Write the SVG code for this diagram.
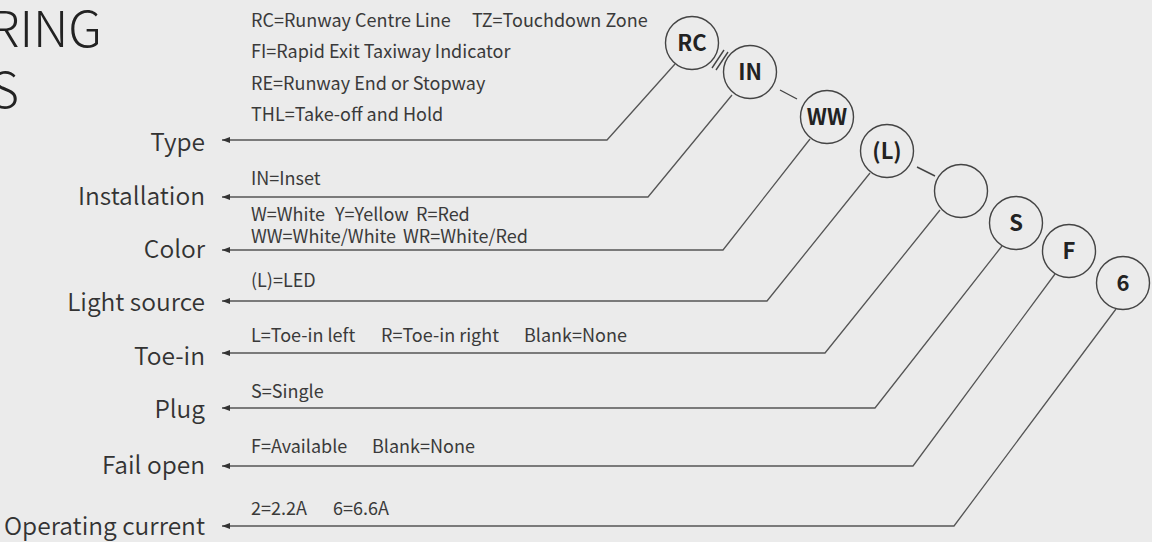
<svg xmlns="http://www.w3.org/2000/svg" width="1152" height="542" viewBox="0 0 1152 542">
<defs>
<marker id="arr" markerUnits="userSpaceOnUse" markerWidth="10" markerHeight="8" refX="8" refY="3" orient="auto">
<path d="M0,0 L8,3 L0,6 z" fill="#333"/>
</marker>
<style>
.bg{fill:#ebebeb}
.title{font-family:"Noto Sans CJK SC","Noto Sans",sans-serif;font-weight:300;font-size:50px;fill:#222}
.lbl{font-family:"Noto Sans CJK SC","Noto Sans",sans-serif;font-weight:350;font-size:24.5px;fill:#333;text-anchor:end}
.desc{font-family:"Noto Sans CJK SC","Noto Sans",sans-serif;font-weight:400;font-size:18px;fill:#3a3a3a}
.code{font-family:"Noto Sans CJK SC","Noto Sans",sans-serif;font-weight:700;font-size:22px;fill:#222;text-anchor:middle}
.circ{fill:#ebebeb;stroke:#444;stroke-width:1.4}
.con{fill:none;stroke:#555;stroke-width:1.3;marker-end:url(#arr)}
.sep{stroke:#444;stroke-width:1.4}
</style>
</defs>
<rect class="bg" x="0" y="0" width="1152" height="542"/>
<g id="title">
<text class="title" x="102" y="47" text-anchor="end">RING</text>
<text class="title" x="19" y="108" text-anchor="end">S</text>
</g>
<g id="connectors">
<path class="con" d="M675,64 L607,140 L222,140"/>
<path class="con" d="M732,95 L648,197 L222,197"/>
<path class="con" d="M810,139 L723,250 L222,250"/>
<path class="con" d="M870,173 L767,301 L222,301"/>
<path class="con" d="M940,210 L825,353 L222,353"/>
<path class="con" d="M1002,246 L875,408 L222,408"/>
<path class="con" d="M1055,274 L913,466 L222,466"/>
<path class="con" d="M1116,309 L954,526 L222,526"/>
<line class="sep" x1="712" y1="68" x2="724" y2="50"/>
<line class="sep" x1="716" y1="70" x2="728" y2="52"/>
<line class="sep" x1="780" y1="90" x2="797" y2="99"/>
<line class="sep" x1="917" y1="167" x2="935" y2="176"/>
</g>
<g id="node-type">
<text class="lbl" x="205" y="151">Type</text>
<text class="desc" x="251" y="27">RC=Runway Centre Line<tspan x="472">TZ=Touchdown Zone</tspan></text>
<text class="desc" x="251" y="58">FI=Rapid Exit Taxiway Indicator</text>
<text class="desc" x="251" y="90">RE=Runway End or Stopway</text>
<text class="desc" x="251" y="121">THL=Take-off and Hold</text>
<circle class="circ" cx="692" cy="43" r="26.5"/>
<text class="code" x="692" y="51">RC</text>
</g>
<g id="node-installation">
<text class="lbl" x="205" y="205">Installation</text>
<text class="desc" x="251" y="185">IN=Inset</text>
<circle class="circ" cx="750" cy="72" r="26.5"/>
<text class="code" x="750" y="80">IN</text>
</g>
<g id="node-color">
<text class="lbl" x="205" y="258">Color</text>
<text class="desc" x="251" y="221">W=White<tspan x="335">Y=Yellow</tspan><tspan x="416">R=Red</tspan></text>
<text class="desc" x="251" y="243">WW=White/White<tspan x="403">WR=White/Red</tspan></text>
<circle class="circ" cx="827" cy="117" r="26.5"/>
<text class="code" x="827" y="125">WW</text>
</g>
<g id="node-light-source">
<text class="lbl" x="205" y="311">Light source</text>
<text class="desc" x="251" y="287">(L)=LED</text>
<circle class="circ" cx="887" cy="151" r="26.5"/>
<text class="code" x="887" y="159">(L)</text>
</g>
<g id="node-toe-in">
<text class="lbl" x="205" y="365">Toe-in</text>
<text class="desc" x="251" y="342">L=Toe-in left<tspan x="381">R=Toe-in right</tspan><tspan x="524">Blank=None</tspan></text>
<circle class="circ" cx="961" cy="191" r="26.5"/>
</g>
<g id="node-plug">
<text class="lbl" x="205" y="418">Plug</text>
<text class="desc" x="251" y="398">S=Single</text>
<circle class="circ" cx="1016" cy="223" r="26.5"/>
<text class="code" x="1016" y="231">S</text>
</g>
<g id="node-fail-open">
<text class="lbl" x="205" y="474">Fail open</text>
<text class="desc" x="251" y="453">F=Available<tspan x="372">Blank=None</tspan></text>
<circle class="circ" cx="1069" cy="251" r="26.5"/>
<text class="code" x="1069" y="259">F</text>
</g>
<g id="node-operating-current">
<text class="lbl" x="205" y="535">Operating current</text>
<text class="desc" x="251" y="515">2=2.2A<tspan x="333">6=6.6A</tspan></text>
<circle class="circ" cx="1123" cy="283" r="26.5"/>
<text class="code" x="1123" y="291">6</text>
</g>
</svg>
